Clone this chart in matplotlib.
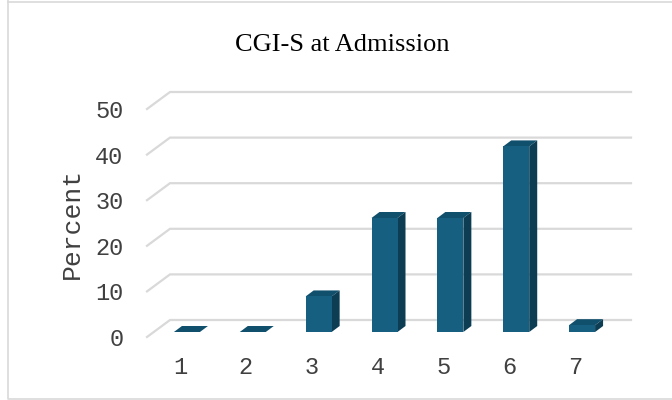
import matplotlib
matplotlib.use("Agg")
import matplotlib.pyplot as plt
from matplotlib.patches import Polygon
from matplotlib.lines import Line2D
import numpy as np

categories = ["1", "2", "3", "4", "5", "6", "7"]
percent = [0.0, 0.0, 7.8, 25.0, 25.0, 40.7, 1.5]
yticks = [0, 10, 20, 30, 40, 50]
title = "CGI-S at Admission"
ylabel = "Percent"

W, H, DPI = 672, 400, 100
fig = plt.figure(figsize=(W / DPI, H / DPI), dpi=DPI)
fig.patch.set_facecolor("white")

left_px, right_px = 147, 608
bottom_px, top_px = 337, 109
ax = fig.add_axes([left_px / W, 1 - bottom_px / H,
                   (right_px - left_px) / W, (bottom_px - top_px) / H])
ax.set_xlim(0.5, 7.5)
ax.set_ylim(0, 50)
ax.patch.set_alpha(0)
for s in ax.spines.values():
    s.set_visible(False)

# pixels per data unit
pxx = (right_px - left_px) / 7.0
pxy = (bottom_px - top_px) / 50.0

def shift(x, y, dxp, dyp):
    return (x + dxp / pxx, y + dyp / pxy)

grid_c = "#d9d9d9"
wall_dx, wall_dy = 23, 17
for v in yticks:
    p0 = (0.5, v)
    p1 = shift(0.5, v, wall_dx, wall_dy)
    p2 = shift(7.5, v, wall_dx, wall_dy)
    ax.add_line(Line2D([p0[0], p1[0], p2[0]], [p0[1], p1[1], p2[1]],
                       color=grid_c, lw=1.6, zorder=1, clip_on=False,
                       solid_joinstyle="miter"))

front_c = "#175f80"
side_c = "#0d3d53"
top_c = "#10506c"
bw = 26 / pxx
fdx, fdy = 7, 5      # bar front plane offset
ddx, ddy = 8, 6      # bar depth

xs = np.arange(1, len(categories) + 1)
for x, v in zip(xs, percent):
    cx, by = shift(x, 0, fdx, fdy)
    x0, x1 = cx - bw / 2, cx + bw / 2
    ty = by + v
    # top face
    a = (x0, ty); b = (x1, ty)
    c = shift(x1, ty, ddx, ddy); d = shift(x0, ty, ddx, ddy)
    ax.add_patch(Polygon([a, b, c, d], closed=True, facecolor=top_c,
                         edgecolor="none", zorder=3, clip_on=False))
    # side face
    if v > 0:
        s1 = (x1, by); s2 = (x1, ty)
        s3 = shift(x1, ty, ddx, ddy); s4 = shift(x1, by, ddx, ddy)
        ax.add_patch(Polygon([s1, s2, s3, s4], closed=True, facecolor=side_c,
                             edgecolor="none", zorder=3, clip_on=False))
        # front face
        ax.bar([cx], [v], width=bw, bottom=by, color=front_c,
               edgecolor="none", zorder=4, clip_on=False)

ax.set_xticks(xs)
ax.set_xticklabels(categories)
ax.set_yticks(yticks)
ax.set_yticklabels([str(t) for t in yticks])
ax.tick_params(axis="both", length=0, labelsize=17, colors="#404040")
ax.tick_params(axis="y", pad=17)
ax.tick_params(axis="x", pad=14)
for lab in ax.get_xticklabels() + ax.get_yticklabels():
    lab.set_fontfamily("Liberation Mono")

fig.text(72 / W, 1 - 223 / H, ylabel, rotation=90, ha="center", va="center",
         fontsize=19, family="Liberation Mono", color="#404040")
fig.text(342 / W, 1 - 45 / H, title, ha="center", va="center",
         fontsize=19, family="Liberation Serif", color="black")

# outer border
bc = "#d9d9d9"
fig.add_artist(Line2D([7.5 / W, 7.5 / W, 1.01], [1.01, 1.5 / H, 1.5 / H],
                      color=bc, lw=1.2, transform=fig.transFigure))
fig.add_artist(Line2D([7.5 / W, 1.01], [1 - 1.5 / H, 1 - 1.5 / H],
                      color=bc, lw=1.2, transform=fig.transFigure))

fig.savefig("out.png", dpi=DPI, facecolor="white")
